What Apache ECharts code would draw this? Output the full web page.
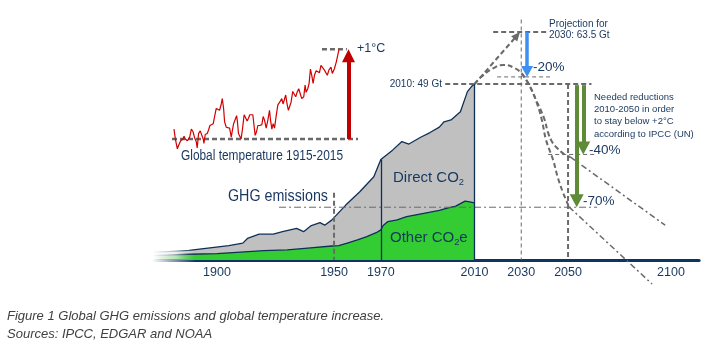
<!DOCTYPE html>
<html>
<head>
<meta charset="utf-8">
<title>Global GHG emissions and temperature</title>
<script src="https://cdn.jsdelivr.net/npm/echarts@6/dist/echarts.min.js"></script>
</head>
<body style="margin:0;background:#fff">
<div id="chart" style="width:714px;height:352px"></div>
<script>
// emissions in Gt CO2e
var totalYears = [1873, 1880, 1888, 1897, 1905, 1911, 1913, 1918, 1924, 1928, 1934, 1937, 1940, 1944, 1946, 1949, 1951, 1955, 1961, 1967, 1970, 1975, 1979, 1982, 1987, 1991, 1995, 1997, 2000, 2004, 2007, 2009, 2010];
var totalGt = [2.2, 2.4, 2.7, 3.4, 4.0, 4.7, 6.0, 7.2, 7.2, 7.9, 8.8, 7.9, 9.5, 10.4, 9.7, 11.1, 12.5, 15.3, 19.0, 23.2, 28.0, 30.6, 33.0, 32.3, 34.2, 35.5, 37.0, 38.5, 39.0, 41.3, 46.9, 48.5, 49.0];
var otherYears = [1873, 1880, 1888, 1900, 1910, 1920, 1930, 1940, 1949, 1952, 1956, 1960, 1964, 1968, 1970, 1971, 1973, 1977, 1981, 1985, 1990, 1995, 1998, 2002, 2006, 2008, 2010];
var otherGt = [1.2, 1.4, 1.6, 1.8, 2.2, 2.6, 2.8, 3.4, 3.9, 4.0, 4.8, 5.6, 6.5, 7.6, 8.4, 9.6, 10.7, 11.2, 12.1, 12.6, 13.2, 13.8, 14.4, 15.0, 16.4, 16.2, 15.9];
var dividerYears = [1970, 2010];

// projections
var peakPath = [[2010, 49], [2013.1, 51.1], [2018, 53.4], [2022.4, 54.3], [2027.4, 53.4], [2030.2, 52.0]];
var pathA = [[2030.2, 52.0], [2033.8, 48.3], [2036.8, 43.5], [2038.8, 39.0], [2040.6, 33.4], [2043.6, 27.9], [2045.7, 22.8], [2047.9, 18.7], [2050.4, 14.8]];
var pathB = [[2030.2, 52.0], [2033, 49.2], [2036.3, 44.6], [2039.7, 39.6], [2041.5, 35.4], [2043.2, 32.9], [2045.3, 31.2], [2048.3, 29.5], [2050.9, 28.7]];
var trendA = [[2050.4, 14.8], [2085.9, -6.7]];
var trendB = [[2050.9, 28.7], [2091.5, 9.7]];

var heavyGuides = [
  [[1997.5, 49], [2060, 49]],
  [[2018, 63.5], [2041, 63.5]],
  [[2050, 49], [2050, 0]],
  [[1950, 18.7], [1950, 0]]
];
var thinGuides = [
  [[2030, 67], [2030, 0]],
  [[2019.7, 51], [2042.3, 51]],
  [[2041.5, 29.4], [2062.4, 29.4]]
];
var dotDashGuides = [
  [[1926.5, 14.7], [2062.4, 14.7]]
];

var projArrow = [[2010, 49], [2029.5, 63.5]];
var blueArrow = [[2032.5, 63.5], [2032.5, 51]];
var green40 = [[2056.5, 48.7], [2056.5, 29.4]];
var green70 = [[2053.7, 48.7], [2053.7, 14.7]];

var tickYears = [1900, 1950, 1970, 2010, 2030, 2050, 2094];
var tickText = ['1900', '1950', '1970', '2010', '2030', '2050', '2100'];

// temperature, degrees above the 1915-2015 low
var tempYears = [1915.0,1915.8,1917.0,1917.8,1919.0,1920.4,1921.0,1921.8,1923.0,1923.8,
  1924.4,1925.4,1926.4,1927.4,1928.3,1928.9,1929.7,1930.7,1931.7,1932.5,
  1932.9,1933.7,1934.9,1935.7,1936.5,1937.3,1938.5,1939.3,1940.3,1941.3,
  1942.3,1943.3,1943.9,1944.7,1945.3,1946.3,1947.3,1948.3,1949.3,1949.9,
  1950.7,1951.7,1952.5,1953.0,1953.6,1954.4,1955.2,1956.0,1957.0,1957.8,
  1958.8,1959.6,1960.4,1961.2,1962.2,1962.8,1963.6,1964.4,1965.2,1966.4,
  1967.6,1968.4,1969.2,1970.2,1971.2,1972.2,1972.8,1973.6,1974.4,1975.2,
  1976.2,1977.2,1978.3,1979.5,1980.3,1981.1,1981.9,1982.7,1983.5,1984.3,
  1985.1,1986.1,1987.1,1987.9,1988.7,1989.7,1990.5,1991.5,1992.7,1993.5,
  1994.1,1995.1,1995.9,1996.7,1997.5,1998.3,1999.1,2000.1,2001.1,2002.1,
  2003.0,2004.0,2005.0,2006.0,2006.8,2007.8,2009.0,2009.8,2011.0,2012.2,
  2013.0,2013.8];
var tempRise = [0.11,0.00,-0.11,-0.07,-0.02,0.00,0.03,0.00,-0.02,-0.03,
  0.02,0.11,0.08,0.01,-0.03,-0.10,0.06,0.09,0.08,0.00,
  -0.05,0.05,0.06,0.10,0.15,0.15,0.17,0.25,0.34,0.32,
  0.32,0.39,0.45,0.34,0.19,0.13,0.13,0.12,0.02,0.09,
  0.17,0.22,0.26,0.19,0.06,0.04,0.00,0.11,0.27,0.25,
  0.20,0.23,0.27,0.27,0.27,0.17,0.04,0.08,0.15,0.15,
  0.16,0.25,0.21,0.12,0.21,0.32,0.21,0.11,0.17,0.12,
  0.26,0.38,0.41,0.45,0.39,0.38,0.49,0.39,0.32,0.32,
  0.41,0.53,0.54,0.47,0.52,0.56,0.51,0.45,0.47,0.60,
  0.52,0.56,0.62,0.78,0.71,0.62,0.71,0.76,0.77,0.74,
  0.82,0.80,0.77,0.78,0.71,0.77,0.80,0.73,0.78,0.86,
  0.93,1.00];
var tempGuides = [
  [[1913.8, 0], [2025.2, 0]],
  [[2003.6, 1], [2018.5, 1]]
];
var redArrow = [[2019.5, 0], [2019.5, 1]];

var NAVY = '#0e2f56';
var DASH = '#6a6a6a';
var TEXT = '#17375e';
var FONT = "'Liberation Sans', Arial, sans-serif";

var G0 = {left: 151.5, width: 547.6, top: 8.7, height: 251.3, xMin: 1872, xMax: 2106, yMin: 0, yMax: 70};
var G1 = {left: 165.65, width: 200.4, top: 44.8, height: 107.6, xMin: 1910, xMax: 2030, yMin: -0.15, yMax: 1.05};

function pairs(xs, ys) {
  return xs.map(function (x, i) { return [x, ys[i]]; });
}
function totalAt(y) {
  return totalGt[totalYears.indexOf(y)];
}
function fade(r, g, b) {
  var c = 'rgba(' + r + ',' + g + ',' + b + ',';
  return new echarts.graphic.LinearGradient(0, 0, 1, 0, [
    {offset: 0, color: c + '0)'},
    {offset: 0.07, color: c + '0.3)'},
    {offset: 0.13, color: c + '1)'}
  ]);
}

var series = [];

series.push({
  type: 'line', data: pairs(totalYears, totalGt), symbol: 'none', z: 2,
  lineStyle: {width: 1.3, color: fade(14, 47, 86)},
  areaStyle: {color: fade(192, 192, 192), opacity: 1},
  markLine: {
    silent: true, symbol: 'none', label: {show: false},
    lineStyle: {color: NAVY, width: 1.3, type: 'solid'},
    data: dividerYears.map(function (y) { return [{coord: [y, 0]}, {coord: [y, totalAt(y)]}]; })
  }
});
series.push({
  type: 'line', data: pairs(otherYears, otherGt), symbol: 'none', z: 3,
  lineStyle: {width: 1.3, color: fade(14, 47, 86)},
  areaStyle: {color: fade(51, 204, 51), opacity: 1}
});

function guide(pts, style, xi, smooth) {
  return {
    type: 'line', data: pts, symbol: 'none', xAxisIndex: xi || 0, yAxisIndex: xi || 0,
    smooth: smooth || false, lineStyle: style, z: 4, silent: true, clip: false
  };
}
var heavy = {color: DASH, width: 2, type: [5, 3]};
var thin = {color: DASH, width: 1, type: [4, 3]};
var dotDash = {color: DASH, width: 1, type: [7, 3, 2, 3]};
var trend = {color: DASH, width: 1.5, type: [6, 3, 2, 3]};

heavyGuides.forEach(function (s) { series.push(guide(s, heavy)); });
thinGuides.forEach(function (s) { series.push(guide(s, thin)); });
dotDashGuides.forEach(function (s) { series.push(guide(s, dotDash)); });
series.push(guide(peakPath, heavy, 0, 0.5));
series.push(guide(pathA, heavy, 0, 0.4));
series.push(guide(pathB, heavy, 0, 0.4));
series.push(guide(trendA, trend));
series.push(guide(trendB, trend));

function arrow(pts, color, width, head, xi, type) {
  var g = xi ? G1 : G0;
  var sx = g.width / (g.xMax - g.xMin), sy = g.height / (g.yMax - g.yMin);
  var dx = (pts[1][0] - pts[0][0]) * sx, dy = (pts[1][1] - pts[0][1]) * sy;
  var len = Math.sqrt(dx * dx + dy * dy);
  var end = [pts[1][0] - head[1] / 2 * dx / len / sx, pts[1][1] - head[1] / 2 * dy / len / sy];
  return {
    type: 'line', data: [], xAxisIndex: xi || 0, yAxisIndex: xi || 0, z: 6,
    markLine: {
      silent: true, symbol: ['none', 'triangle'], symbolSize: head, label: {show: false},
      lineStyle: {color: color, width: width, type: type || 'solid', opacity: 1},
      emphasis: {disabled: true},
      data: [[{coord: pts[0]}, {coord: end}]]
    }
  };
}
series.push(arrow(projArrow, DASH, 2, [8, 9], 0, [5, 3]));
series.push(arrow(blueArrow, '#3d8ff0', 3.5, [12, 11]));
series.push(arrow(green40, '#5f8a38', 4, [14, 13]));
series.push(arrow(green70, '#5f8a38', 4, [14, 13]));

// temperature inset
series.push({
  type: 'line', xAxisIndex: 1, yAxisIndex: 1, data: pairs(tempYears, tempRise),
  symbol: 'none', lineStyle: {color: '#d20000', width: 1.2}, z: 5
});
tempGuides.forEach(function (s) { series.push(guide(s, {color: DASH, width: 2.5, type: [5, 3]}, 1)); });
series.push(arrow(redArrow, '#c00000', 4, [13, 13], 1));

// annotation text
var ctx = document.createElement('canvas').getContext('2d');
function measure(t, size, style) {
  ctx.font = (style || '') + ' ' + size + 'px ' + FONT;
  return ctx.measureText(t).width;
}
var graphics = [];
function txt(t, x, y, size, opts) {
  opts = opts || {};
  var el = {
    type: 'text', x: x, y: y, silent: true, z: 10,
    style: {
      text: t, fill: opts.color || TEXT, font: (opts.style || '') + ' ' + size + 'px ' + FONT,
      textAlign: opts.align || 'left', textVerticalAlign: 'middle',
      align: opts.align || 'left', verticalAlign: 'middle'
    }
  };
  if (opts.fit) el.scaleX = opts.fit / measure(t, size, opts.style);
  graphics.push(el);
}
function withSub(parts, x, y, size) {
  var cx = x;
  parts.forEach(function (p) {
    var s = p.sub ? size * 0.62 : size;
    txt(p.t, cx, y + (p.sub ? size * 0.28 : 0), s);
    cx += measure(p.t, s);
  });
}

txt('Global temperature 1915-2015', 181, 156, 14, {fit: 162});
txt('+1\u00b0C', 357, 49, 12.5);
txt('GHG emissions', 228, 197, 16, {fit: 100});
withSub([{t: 'Direct CO'}, {t: '2', sub: true}], 393, 178, 15);
withSub([{t: 'Other CO'}, {t: '2', sub: true}, {t: 'e'}], 390, 238, 15);
txt('2010: 49 Gt', 442, 84, 10, {align: 'right'});
txt('Projection for', 549, 24, 10);
txt('2030: 63.5 Gt', 549, 35, 10);
txt('-20%', 533, 67, 13.5);
['Needed reductions', '2010-2050 in order', 'to stay below +2\u00b0C', 'according to IPCC (UN)'].forEach(function (l, i) {
  txt(l, 594, 97 + i * 12.4, 9.5);
});
txt('-40%', 589, 150, 13.5);
txt('-70%', 583, 201.5, 13.5);
txt('Figure 1 Global GHG emissions and global temperature increase.', 7, 316, 13, {style: 'italic', color: '#404040'});
txt('Sources: IPCC, EDGAR and NOAA', 7, 334, 13, {style: 'italic', color: '#404040'});

var chart = echarts.init(document.getElementById('chart'));
chart.setOption({
  animation: false,
  backgroundColor: '#fff',
  grid: [
    {left: G0.left, width: G0.width, top: G0.top, height: G0.height, outerBoundsMode: 'none'},
    {left: G1.left, width: G1.width, top: G1.top, height: G1.height, outerBoundsMode: 'none'}
  ],
  xAxis: [
    {
      gridIndex: 0, type: 'value', min: G0.xMin, max: G0.xMax,
      axisLine: {
        symbol: ['none', 'arrow'], symbolSize: [7, 8],
        lineStyle: {
          width: 3,
          color: new echarts.graphic.LinearGradient(152, 0, 196, 0, [
            {offset: 0, color: 'rgba(12,53,96,0)'}, {offset: 1, color: 'rgba(12,53,96,1)'}
          ], true)
        }
      },
      axisTick: {show: false}, splitLine: {show: false},
      axisLabel: {
        customValues: tickYears, margin: 6, color: TEXT, fontSize: 12.5, fontFamily: FONT,
        formatter: function (v) { var i = tickYears.indexOf(v); return i < 0 ? '' : tickText[i]; }
      }
    },
    {gridIndex: 1, type: 'value', min: G1.xMin, max: G1.xMax, show: false}
  ],
  yAxis: [
    {gridIndex: 0, type: 'value', min: G0.yMin, max: G0.yMax, show: false},
    {gridIndex: 1, type: 'value', min: G1.yMin, max: G1.yMax, show: false}
  ],
  graphic: graphics,
  series: series
});
</script>
</body>
</html>
